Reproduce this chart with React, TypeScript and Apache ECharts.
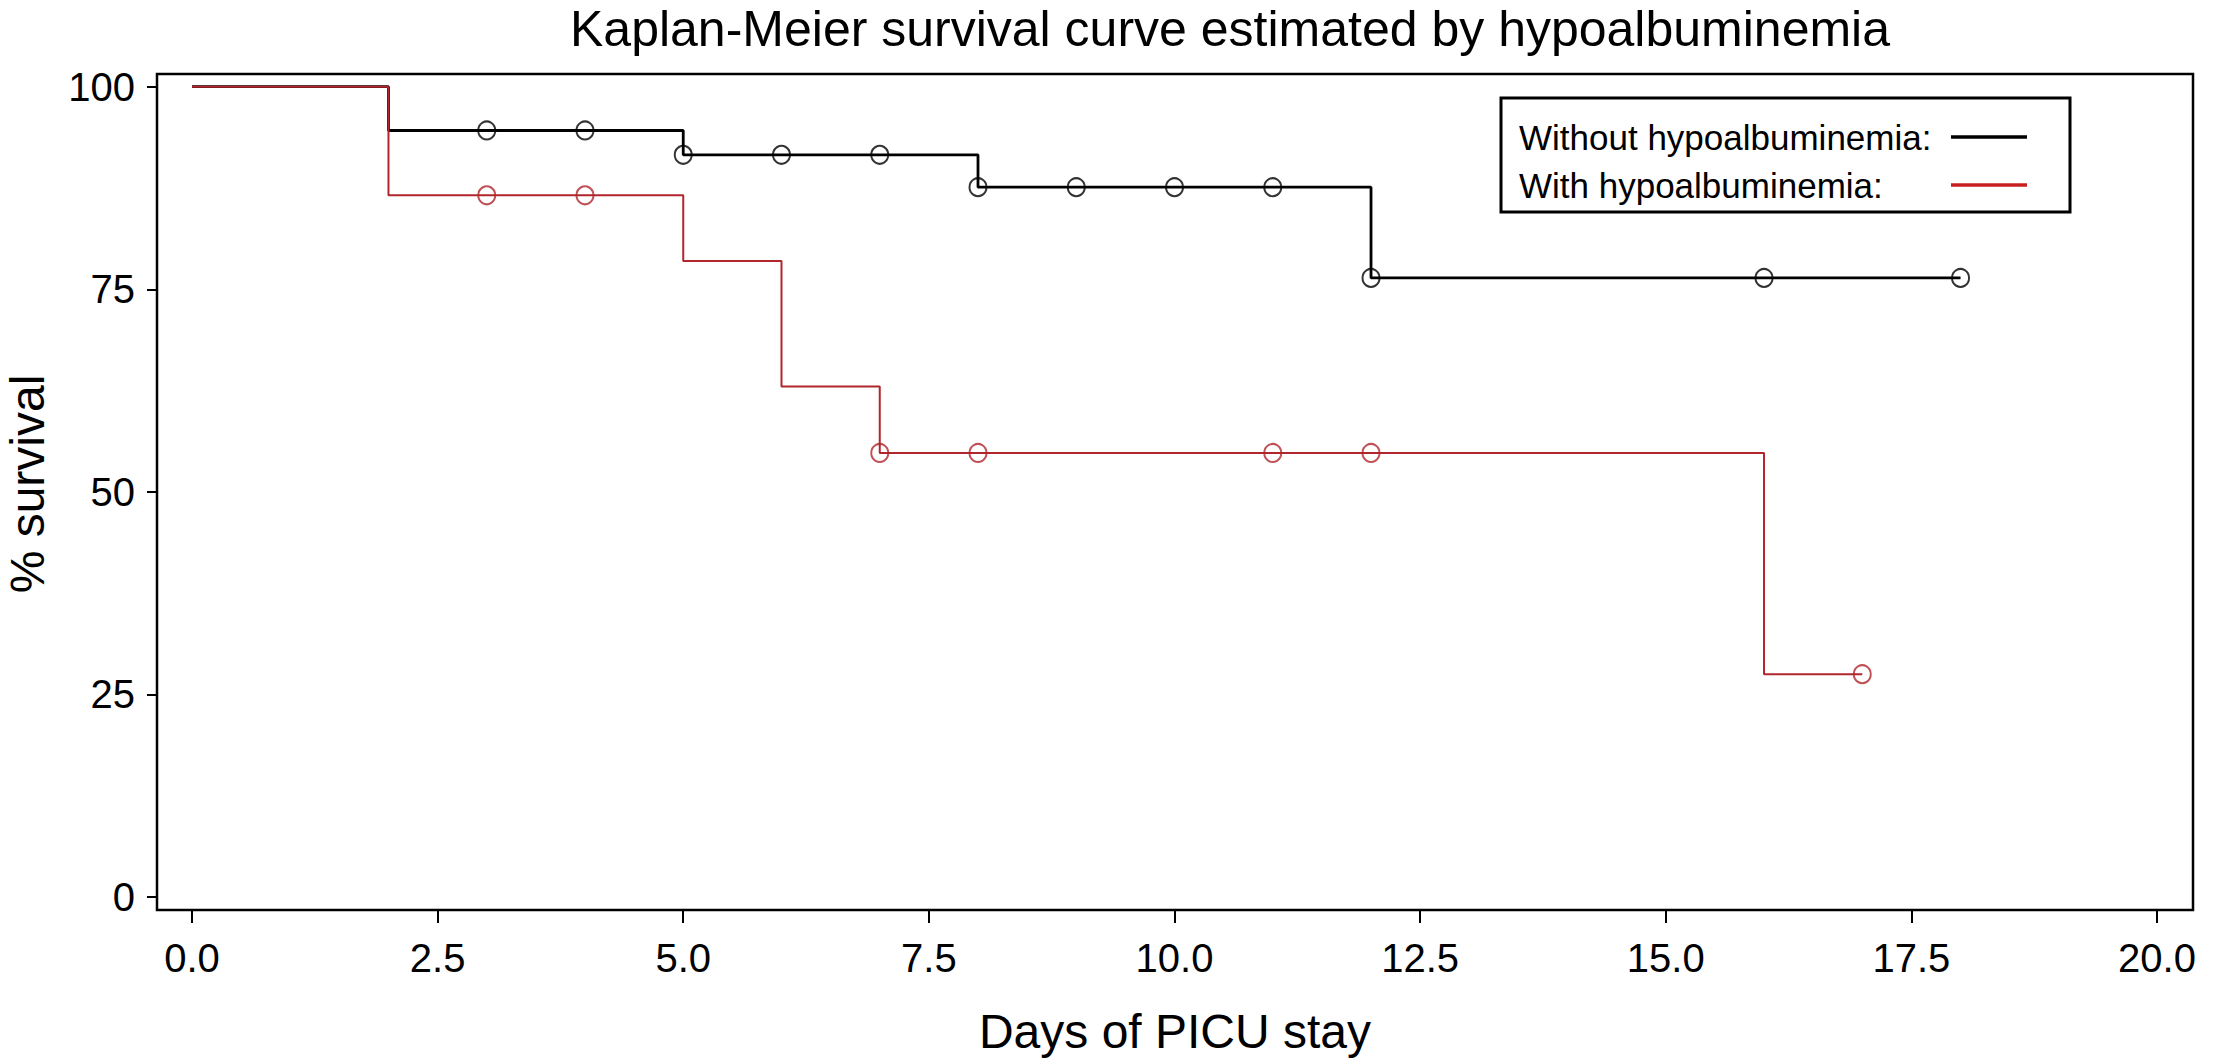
import React, { useEffect, useRef } from "react";
import * as echarts from "echarts";

const titleText = "Kaplan-Meier survival curve estimated by hypoalbuminemia";
const xName = "Days of PICU stay";
const yName = "% survival";
const xTicks = [0, 2.5, 5, 7.5, 10, 12.5, 15, 17.5, 20];
const yTicks = [0, 25, 50, 75, 100];

const withoutName = "Without hypoalbuminemia:";
const withName = "With hypoalbuminemia:";

// Step curves: [day, % survival from that day on]
const withoutSteps: [number, number][] = [
  [0, 100], [2, 94.6], [5, 91.6], [8, 87.6], [12, 76.4], [18, 76.4],
];
const withSteps: [number, number][] = [
  [0, 100], [2, 86.6], [5, 78.5], [6, 63.0], [7, 54.8], [16, 27.5], [17, 27.5],
];
// Censored observations
const withoutCensored: [number, number][] = [
  [3, 94.6], [4, 94.6], [5, 91.6], [6, 91.6], [7, 91.6], [8, 87.6], [9, 87.6],
  [10, 87.6], [11, 87.6], [12, 76.4], [16, 76.4], [18, 76.4],
];
const withCensored: [number, number][] = [
  [3, 86.6], [4, 86.6], [7, 54.8], [8, 54.8], [11, 54.8], [12, 54.8], [17, 27.5],
];

const FONT = "'Liberation Sans', Arial, Helvetica, sans-serif";
const BLACK = "#000000";
const RED = "#b0262c";
const RED_LEG = "#c8201e";

export default function App() {
  const ref = useRef<HTMLDivElement>(null);
  useEffect(() => {
    document.body.style.margin = "0";
    const chart = echarts.init(ref.current!, null, { renderer: "svg" });
    const fmt = (v: number) => (Number.isInteger(v) ? v.toFixed(1) : String(v));
    chart.setOption({
      animation: false,
      backgroundColor: "#ffffff",
      grid: {
        left: 157, right: 24, top: 74, bottom: 151,
        show: true, borderColor: BLACK, borderWidth: 2.5, backgroundColor: "transparent",
      },
      xAxis: {
        type: "value",
        min: -0.356, max: 20.366,
        axisLine: { show: false, onZero: false },
        splitLine: { show: false },
        axisTick: {
          show: true, length: 13, lineStyle: { color: BLACK, width: 2 },
          customValues: xTicks,
        },
        axisLabel: {
          show: true, margin: 28, fontSize: 40, color: BLACK, fontFamily: FONT,
          customValues: xTicks,
          formatter: (v: number) => fmt(v),
        },
      },
      yAxis: {
        type: "value",
        min: -1.6, max: 101.57,
        axisLine: { show: false, onZero: false },
        splitLine: { show: false },
        axisTick: {
          show: true, length: 10, lineStyle: { color: BLACK, width: 2 },
          customValues: yTicks,
        },
        axisLabel: {
          show: true, margin: 22, fontSize: 40, color: BLACK, fontFamily: FONT,
          customValues: yTicks,
        },
      },
      series: [
        {
          type: "line", step: "end", data: withoutSteps, showSymbol: false,
          lineStyle: { color: BLACK, width: 2.8 }, z: 2,
        },
        {
          type: "scatter", data: withoutCensored, symbol: "circle", symbolSize: [17, 18],
          itemStyle: { color: "transparent", borderColor: BLACK, borderWidth: 2 }, z: 3,
        },
        {
          type: "line", step: "end", data: withSteps, showSymbol: false,
          lineStyle: { color: RED, width: 2 }, z: 4,
        },
        {
          type: "scatter", data: withCensored, symbol: "circle", symbolSize: [17, 18],
          itemStyle: { color: "transparent", borderColor: RED, borderWidth: 2 }, z: 5,
        },
      ],
      graphic: [
        {
          type: "text", x: 1230, y: 29,
          style: { text: titleText, fontSize: 50, lineHeight: 50, fontFamily: FONT, fill: BLACK, textAlign: "center", textVerticalAlign: "middle" },
        },
        {
          type: "text", x: 1175, y: 1031,
          style: { text: xName, fontSize: 48, fontFamily: FONT, fill: BLACK, textAlign: "center", textVerticalAlign: "middle" },
        },
        {
          type: "text", x: 27, y: 484, rotation: Math.PI / 2,
          style: { text: yName, fontSize: 48, fontFamily: FONT, fill: BLACK, textAlign: "center", textVerticalAlign: "middle" },
        },
        {
          type: "rect", shape: { x: 1501, y: 98, width: 569, height: 114 },
          style: { fill: "#ffffff", stroke: BLACK, lineWidth: 3 }, z: 10,
        },
        {
          type: "text", x: 1519, y: 137, z: 11,
          style: { text: withoutName, fontSize: 35, fontFamily: FONT, fill: BLACK, textAlign: "left", textVerticalAlign: "middle" },
        },
        {
          type: "text", x: 1519, y: 185, z: 11,
          style: { text: withName, fontSize: 35, fontFamily: FONT, fill: BLACK, textAlign: "left", textVerticalAlign: "middle" },
        },
        {
          type: "line", shape: { x1: 1951, y1: 137, x2: 2027, y2: 137 }, z: 11,
          style: { stroke: BLACK, lineWidth: 3.5 },
        },
        {
          type: "line", shape: { x1: 1951, y1: 185, x2: 2027, y2: 185 }, z: 11,
          style: { stroke: RED_LEG, lineWidth: 3.5 },
        },
      ],
    });
    return () => chart.dispose();
  }, []);
  return <div ref={ref} style={{ width: 2217, height: 1061 }} />;
}
